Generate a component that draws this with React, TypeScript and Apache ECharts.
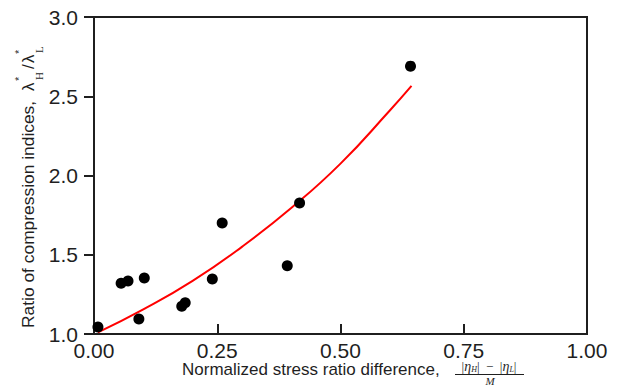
import React, { useEffect, useRef } from "react";
import * as echarts from "echarts";

// Measured points: normalized stress ratio difference vs. ratio of compression indices
const stressDiff = [0.008, 0.055, 0.069, 0.091, 0.102, 0.178, 0.185, 0.24, 0.26, 0.392, 0.417, 0.642];
const indexRatio = [1.044, 1.32, 1.334, 1.095, 1.353, 1.175, 1.197, 1.347, 1.70, 1.43, 1.826, 2.69];

// Fitted trend line
const fitX = [0.008, 0.1, 0.2, 0.3, 0.4, 0.5, 0.6, 0.644];
const fitY = [1.01, 1.155, 1.335, 1.55, 1.795, 2.075, 2.41, 2.565];

const xTicks = [0, 0.25, 0.5, 0.75, 1];
const yTicks = [1, 1.5, 2, 2.5, 3];

const INK = "#1f1f1f";
const SANS = "'Liberation Sans', Arial, sans-serif";
const SERIF = "'Liberation Serif', 'Times New Roman', serif";

export default function App() {
  const ref = useRef<HTMLDivElement>(null);

  useEffect(() => {
    if (!ref.current) return;
    const chart = echarts.init(ref.current, undefined, { renderer: "svg" });

    const scatterData = stressDiff.map((x, i) => [x, indexRatio[i]]);
    const fitData = fitX.map((x, i) => [x, fitY[i]]);

    chart.setOption({
      animation: false,
      backgroundColor: "#ffffff",
      grid: {
        left: 94,
        right: 33,
        top: 17,
        bottom: 52,
        show: true,
        borderColor: INK,
        borderWidth: 2,
      },
      xAxis: {
        type: "value",
        min: xTicks[0],
        max: xTicks[xTicks.length - 1],
        interval: xTicks[1] - xTicks[0],
        axisLine: { show: true, lineStyle: { color: INK, width: 2 } },
        axisTick: { show: true, inside: true, length: 10, lineStyle: { color: INK, width: 2 } },
        axisLabel: {
          color: INK,
          fontSize: 21,
          fontFamily: SANS,
          margin: 6,
          formatter: (v: number) => v.toFixed(2),
        },
        splitLine: { show: false },
      },
      yAxis: {
        type: "value",
        min: yTicks[0],
        max: yTicks[yTicks.length - 1],
        interval: yTicks[1] - yTicks[0],
        axisLine: { show: true, lineStyle: { color: INK, width: 2 } },
        axisTick: { show: true, inside: false, length: 10, lineStyle: { color: INK, width: 2 } },
        axisLabel: {
          color: INK,
          fontSize: 21,
          fontFamily: SANS,
          margin: 16,
          formatter: (v: number) => v.toFixed(1),
        },
        splitLine: { show: false },
      },
      series: [
        {
          type: "line",
          data: fitData,
          smooth: true,
          showSymbol: false,
          lineStyle: { color: "#ff0000", width: 2 },
          z: 2,
        },
        {
          type: "scatter",
          data: scatterData,
          symbol: "circle",
          symbolSize: 11,
          itemStyle: { color: "#000000", opacity: 1 },
          z: 3,
        },
      ],
      graphic: [
        // x-axis title
        {
          type: "text",
          left: 182,
          top: 361,
          style: {
            text: "Normalized stress ratio difference,",
            fontSize: 17,
            fontFamily: SANS,
            fill: INK,
          },
        },
        // fraction (|η_H| − |η_L|) / M
        {
          type: "text",
          x: 489,
          y: 366,
          style: {
            text: "|{it|η}{sub|H}|  −  |{it|η}{sub|L}|",
            align: "center",
            verticalAlign: "middle",
            fontSize: 13,
            fontFamily: SERIF,
            fill: INK,
            rich: {
              it: { fontSize: 14, fontStyle: "italic", fontFamily: SERIF, fill: INK, lineHeight: 14, verticalAlign: "middle" },
              sub: { fontSize: 8, fontStyle: "italic", fontFamily: SERIF, fill: INK, lineHeight: 9, verticalAlign: "bottom" },
            },
          },
        },
        {
          type: "line",
          shape: { x1: 455, y1: 374.5, x2: 524, y2: 374.5 },
          style: { stroke: INK, lineWidth: 1 },
        },
        {
          type: "text",
          x: 490,
          y: 375,
          style: {
            text: "M",
            align: "center",
            verticalAlign: "top",
            fontSize: 11,
            fontStyle: "italic",
            fontFamily: SERIF,
            fill: INK,
          },
        },
        // y-axis title, reading bottom to top
        {
          type: "group",
          x: 28,
          y: 328,
          rotation: Math.PI / 2,
          children: [
            {
              type: "text",
              x: 0,
              y: 0,
              style: {
                text: "Ratio of compression indices,",
                fontSize: 17.4,
                fontFamily: SANS,
                fill: INK,
                verticalAlign: "middle",
                align: "left",
              },
            },
            { type: "text", x: 237, y: 0, style: { text: "λ", fontSize: 17, fontFamily: SANS, fill: INK, verticalAlign: "middle" } },
            { type: "text", x: 247, y: -9, style: { text: "*", fontSize: 11, fontFamily: SANS, fill: INK, verticalAlign: "middle" } },
            { type: "text", x: 248, y: 11, style: { text: "H", fontSize: 11, fontFamily: SERIF, fill: INK, verticalAlign: "middle" } },
            { type: "text", x: 259, y: 0, style: { text: "/", fontSize: 17, fontFamily: SANS, fill: INK, verticalAlign: "middle" } },
            { type: "text", x: 265, y: 0, style: { text: "λ", fontSize: 17, fontFamily: SANS, fill: INK, verticalAlign: "middle" } },
            { type: "text", x: 274, y: -9, style: { text: "*", fontSize: 11, fontFamily: SANS, fill: INK, verticalAlign: "middle" } },
            { type: "text", x: 275, y: 11, style: { text: "L", fontSize: 11, fontFamily: SERIF, fill: INK, verticalAlign: "middle" } },
          ],
        },
      ],
    });

    return () => chart.dispose();
  }, []);

  return (
    <div
      ref={ref}
      style={{ position: "fixed", left: 0, top: 0, width: 620, height: 386, background: "#fff" }}
    />
  );
}
